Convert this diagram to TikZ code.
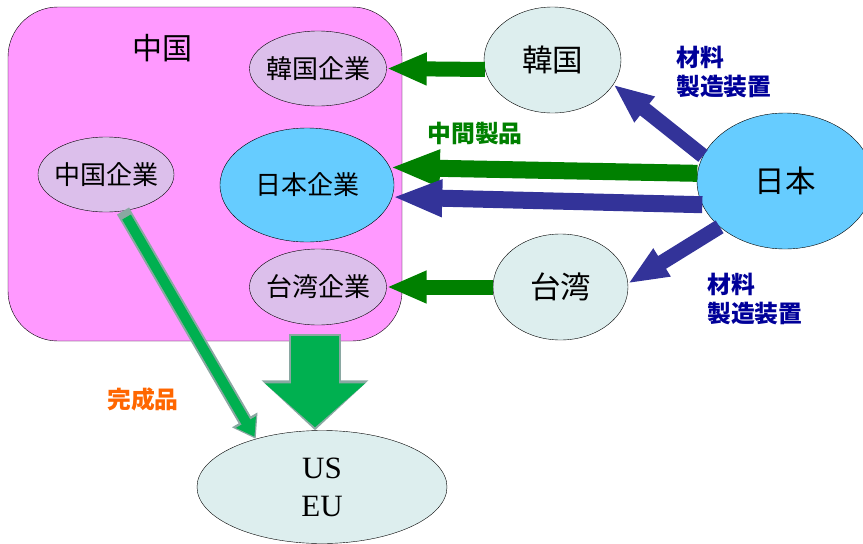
\documentclass[tikz,border=0pt]{standalone}
\usepackage{fontspec}
\setmainfont{Liberation Serif}
\newfontfamily\jp{Noto Sans CJK JP}
\usetikzlibrary{shapes.geometric,arrows.meta,calc}
\definecolor{chnpink}{HTML}{FF99FF}
\definecolor{corplav}{HTML}{DCBFEB}
\definecolor{jpnblue}{HTML}{66CCFF}
\definecolor{landgrey}{HTML}{DDEEEE}
\definecolor{flowgreen}{HTML}{008000}
\definecolor{flowblue}{HTML}{333399}
\definecolor{labelblue}{HTML}{000099}
\definecolor{fingreen}{HTML}{00B050}
\definecolor{finedge}{HTML}{8AA8A2}
\definecolor{finorange}{HTML}{FF6600}
\begin{document}
\begin{tikzpicture}[x=1pt,y=-1pt,
	land/.style={ellipse,draw,thin,inner sep=0pt,font=\jp\fontsize{30.5}{33}\selectfont},
	corp/.style={ellipse,draw,thin,inner ysep=0pt,inner xsep=-12pt,font=\jp\fontsize{26}{28}\selectfont},
	matlabel/.style={anchor=west,align=left,inner sep=0pt,text=labelblue,font=\jp\bfseries\fontsize{23.8}{29}\selectfont},
	goodslabel/.style={inner sep=0pt,font=\jp\bfseries\fontsize{23.8}{26}\selectfont},
	thinflow/.style={line width=15pt,-{Triangle[length=40pt,width=30pt]}},
	thickflow/.style={line width=17pt,-{Triangle[length=50pt,width=34pt]}},
	finflow/.style={draw=fingreen,line width=10pt,shorten <=2pt,shorten >=2.5pt,-{Triangle[length=17pt,width=22pt]},
		preaction={draw=finedge,line width=14pt,shorten <=0pt,shorten >=0pt,-{Triangle[length=22pt,width=28pt]}}},
	bigflow/.style={draw=fingreen,line width=48pt,shorten <=2pt,shorten >=3pt,-{Triangle[length=44pt,width=98pt]},
		preaction={draw=finedge,line width=52pt,shorten <=0pt,shorten >=0pt,-{Triangle[length=50pt,width=104pt]}}}]
	\useasboundingbox (0,0) rectangle (863,544);
	% China box and the companies in it
	\node[draw,thin,fill=chnpink,rounded corners=50pt,minimum width=394pt,minimum height=334pt] (chnbox) at (205,174) {};
	\node[font=\jp\fontsize{30}{32}\selectfont] (chnname) at (162,48) {中国};
	\node[corp,fill=corplav,minimum width=137pt,minimum height=75pt] (korcorp) at (318,68.5) {韓国企業};
	\node[corp,fill=jpnblue,minimum width=174pt,minimum height=114pt] (jpncorp) at (307,185) {日本企業};
	\node[corp,fill=corplav,minimum width=136pt,minimum height=75pt] (chncorp) at (106,174.5) {中国企業};
	\node[corp,fill=corplav,minimum width=137pt,minimum height=76pt] (twncorp) at (318,287) {台湾企業};
	% countries
	\node[land,fill=landgrey,minimum width=137pt,minimum height=106pt] (kor) at (552.5,60) {韓国};
	\node[land,fill=landgrey,minimum width=135pt,minimum height=106pt] (twn) at (560.5,287) {台湾};
	\node[land,fill=jpnblue,minimum width=176pt,minimum height=136pt] (jpn) at (785,181) {日本};
	\node[ellipse,draw,thin,fill=landgrey,inner sep=0pt,minimum width=250pt,minimum height=113pt,
		align=center,font=\fontsize{31}{38}\selectfont] (useu) at (322,487) {US\\EU};
	% flows
	\draw[thinflow,draw=flowgreen] (kor.188) -- (korcorp.east);
	\draw[thickflow,draw=flowgreen] (jpn.175) -- (jpncorp.12);
	\draw[thickflow,draw=flowblue] (jpn.196) -- (jpncorp.-8);
	\draw[thinflow,draw=flowblue] (jpn.163) -- (kor.-22);
	\draw[thinflow,draw=flowblue] (jpn.215) -- (twn.3);
	\draw[thinflow,draw=flowgreen] (twn.west) -- (twncorp.east);
	\draw[finflow,shorten <=7pt] (chncorp.-65) -- (useu.144);
	\draw[bigflow] ($(useu.north |- chnbox.south)+(-7,-7)$) -- ($(useu.north)+(-7,0)$);
	% labels
	\node[matlabel] (matkor) at (676,72) {材料\\製造装置};
	\node[matlabel] (mattwn) at (707,299) {材料\\製造装置};
	\node[goodslabel,text=flowgreen] (midgoods) at (475,133) {中間製品};
	\node[goodslabel,text=finorange] (fingoods) at (143,399) {完成品};
\end{tikzpicture}
\end{document}
